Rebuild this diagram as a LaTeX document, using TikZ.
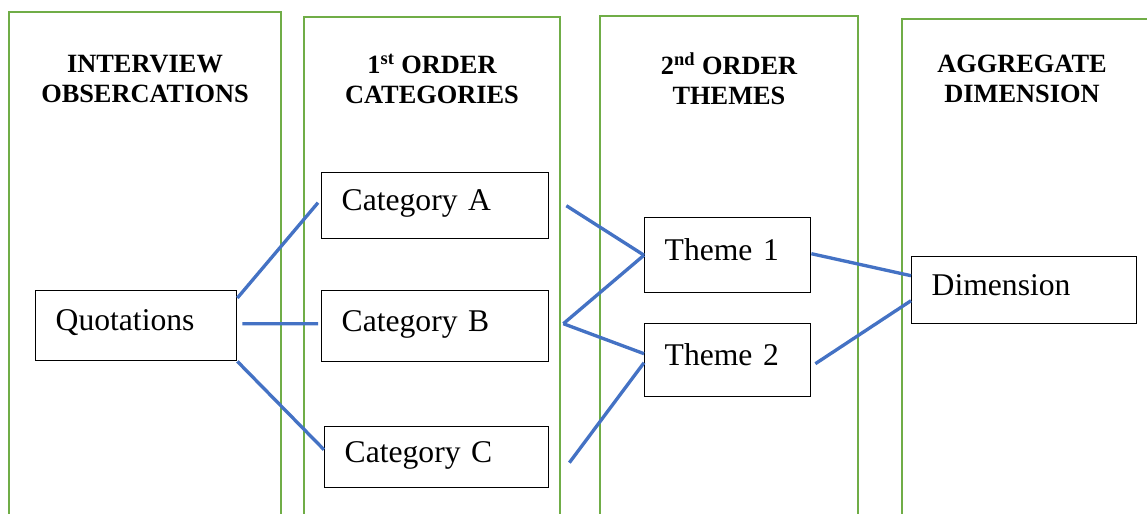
\documentclass[tikz,border=0pt]{standalone}
\usepackage{fontspec}
\setmainfont{Liberation Serif}
\usepackage{xcolor}
\usepackage{tikz}
\usetikzlibrary{positioning}

\definecolor{lanegreen}{HTML}{70AD47}
\definecolor{linkblue}{HTML}{4472C4}

\begin{document}
\begin{tikzpicture}[
    x=0.02cm, y=-0.02cm,
    lane/.style={draw=lanegreen, line width=1.4pt},
    head/.style={align=center, font=\fontsize{15}{17}\selectfont\bfseries},
    item/.style={draw, line width=0.8pt, anchor=north west, align=left, inner xsep=0.4cm,
        text height=0.7em, text depth=0.15em, font=\fontsize{18}{21}\selectfont},
    link/.style={draw=linkblue, line width=1.9pt}
    ]

    \useasboundingbox (0,0) rectangle (1147,514);
    \clip (0,0) rectangle (1147,514);

    % Lanes
    \draw[lane] (9,12) rectangle (281,540);
    \draw[lane] (304,17) rectangle (560,540);
    \draw[lane] (600,16) rectangle (858,540);
    \draw[lane] (902,19) rectangle (1180,540);

    % Headings
    \node[head] (h_obs)   at (145,79) {INTERVIEW\\OBSERCATIONS};
    \node[head] (h_cat)   at (432,79) {1\textsuperscript{st} ORDER\\CATEGORIES};
    \node[head] (h_theme) at (729,79) {2\textsuperscript{nd} ORDER\\THEMES};
    \node[head] (h_dim)   at (1022,79) {AGGREGATE\\DIMENSION};

    % Nodes
    \node[item, text width=3.22cm, minimum height=1.4cm]  (qt)   at (35,290)  {Quotations};
    \node[item, text width=3.74cm, minimum height=1.32cm] (catA) at (321,172) {Category A};
    \node[item, text width=3.74cm, minimum height=1.42cm] (catB) at (321,290) {Category B};
    \node[item, text width=3.68cm, minimum height=1.22cm] (catC) at (324,426) {Category C};
    \node[item, text width=2.52cm, minimum height=1.5cm]  (th1)  at (644,217) {Theme 1};
    \node[item, text width=2.52cm, minimum height=1.46cm] (th2)  at (644,323) {Theme 2};
    \node[item, text width=3.7cm, minimum height=1.34cm]  (dim)  at (911,256) {Dimension};

    % Links
    \draw[link] ([yshift=-0.16cm]qt.north east) -- ([xshift=-0.06cm,yshift=0.06cm]catA.west);
    \draw[link] ([xshift=0.1cm,yshift=0.04cm]qt.east) -- ([xshift=-0.06cm,yshift=0.05cm]catB.west);
    \draw[link] (qt.south east) -- ([yshift=0.15cm]catC.west);

    \draw[link] ([xshift=0.34cm]catA.east) -- (th1.west);
    \draw[link] ([xshift=0.28cm,yshift=0.05cm]catB.east) -- (th1.west);
    \draw[link] ([xshift=0.28cm,yshift=0.05cm]catB.east) -- ([yshift=0.13cm]th2.west);
    \draw[link] ([xshift=0.4cm,yshift=-0.11cm]catC.east) -- ([yshift=-0.05cm]th2.west);

    \draw[link] ([yshift=0.03cm]th1.east) -- ([yshift=0.29cm]dim.west);
    \draw[link] ([xshift=0.08cm,yshift=-0.07cm]th2.east) -- ([yshift=-0.21cm]dim.west);
\end{tikzpicture}
\end{document}
